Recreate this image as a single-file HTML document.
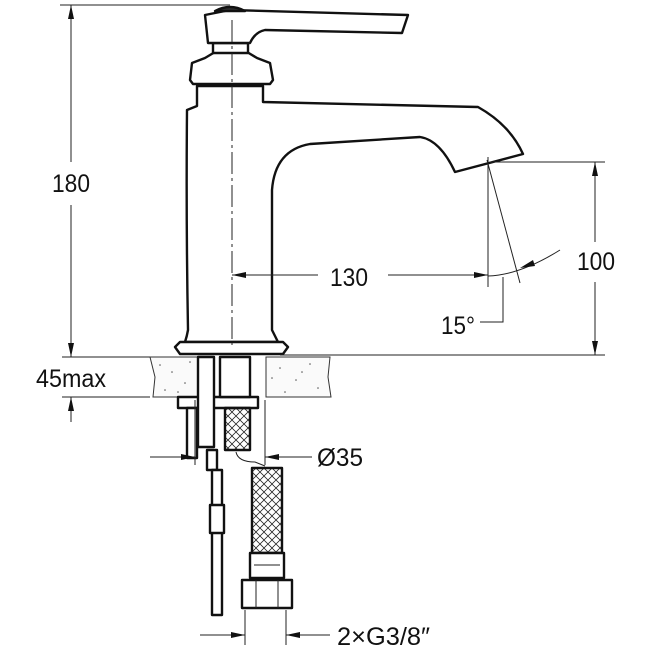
<!DOCTYPE html>
<html><head><style>html,body{margin:0;padding:0;background:#fff}svg{display:block}text{font-family:"Liberation Sans",sans-serif;font-size:25px;fill:#111}</style></head><body>
<svg width="650" height="650" viewBox="0 0 650 650" xmlns="http://www.w3.org/2000/svg">
<defs>
<pattern id="br" width="8" height="8" patternUnits="userSpaceOnUse"><path d="M0,4L4,0M4,8L8,4M0,4L4,8M4,0L8,4" stroke="#222" stroke-width="0.8" fill="none"/></pattern>
</defs>
<!-- counter slab -->
<g stroke="#333" stroke-width="1" fill="#fafafa">
<path d="M150,357 L198,357 L198,397 L153,397 L155,377 Z"/>
<path d="M266,357 L330,357 L328,377 L331,397 L266,397 Z"/>
</g>
<g fill="#555">
<circle cx="160" cy="365" r="0.8"/><circle cx="172" cy="372" r="0.8"/><circle cx="185" cy="383" r="0.8"/><circle cx="165" cy="390" r="0.8"/><circle cx="190" cy="362" r="0.8"/><circle cx="178" cy="392" r="0.8"/><circle cx="280" cy="368" r="0.8"/><circle cx="296" cy="380" r="0.8"/><circle cx="310" cy="364" r="0.8"/><circle cx="318" cy="388" r="0.8"/><circle cx="285" cy="392" r="0.8"/><circle cx="302" cy="372" r="0.8"/><circle cx="272" cy="378" r="0.8"/>
</g>
<!-- faucet -->
<g stroke="#111" stroke-width="2.4" fill="#fff" stroke-linejoin="round">
<path d="M187,110 L197,106 L197,86 L263,86 L263,102 L478,107 Q510,125 523,154 L455,172 Q440,140 420,137 L310,144 Q275,150 272,190 L272,330 Q276,338 278,342 L185,342 Q187,336 188,330 Q186,220 187,110 Z"/>
<path d="M175,347 L180,342 L283,342 L288,347 L283,354 L180,354 Z"/>
<path d="M190,80 L192,63 L205,58 L215,52 L247,52 L257,58 L270,63 L273,80 L270,84 L193,84 Z"/>
<rect x="213" y="43" width="35" height="10"/>
<path d="M205,15 L230,10 L408,15 L402,33 L265,30 Q255,32 250,43 L208,43 Z"/>
<path d="M215,11 Q230,3 245,11 Z" fill="#333"/>
<rect x="178" y="397" width="80" height="11"/>
<rect x="187" y="408" width="10" height="50"/>
<rect x="198" y="357" width="16" height="90"/>
<rect x="220" y="357" width="30" height="40"/>
<rect x="225" y="408" width="25" height="42" fill="url(#br)"/>
<rect x="207" y="450" width="10" height="20"/>
<rect x="212" y="470" width="10" height="145"/>
<rect x="210" y="505" width="14" height="28"/>
<rect x="252" y="468" width="30" height="85" fill="url(#br)"/>
<rect x="250" y="553" width="34" height="25"/>
<rect x="242" y="580" width="50" height="28"/>
</g>
<g stroke="#222" stroke-width="1" fill="none">
<line x1="256" y1="580" x2="256" y2="608"/><line x1="278" y1="580" x2="278" y2="608"/><line x1="254" y1="565" x2="280" y2="565"/>
<line x1="60" y1="5" x2="230" y2="5"/>
<line x1="71" y1="5" x2="71" y2="162"/>
<line x1="71" y1="205" x2="71" y2="357"/>
<line x1="62" y1="357" x2="150" y2="357"/>
<line x1="62" y1="397" x2="150" y2="397"/>
<line x1="71" y1="397" x2="71" y2="422"/>
<line x1="280" y1="355" x2="605" y2="355"/>
<line x1="490" y1="162" x2="605" y2="162"/>
<line x1="595" y1="162" x2="595" y2="242"/>
<line x1="595" y1="282" x2="595" y2="355"/>
<line x1="232" y1="275" x2="318" y2="275"/>
<line x1="388" y1="275" x2="488" y2="275"/>
<line x1="488" y1="157" x2="488" y2="287"/>
<line x1="487" y1="160" x2="520" y2="283"/>
<path d="M488,276 Q520,275 560,250"/>
<polyline points="503,277 503,322 480,322"/>
<line x1="232" y1="20" x2="232" y2="345" stroke-dasharray="22,4,3,4"/>
<line x1="150" y1="457" x2="195" y2="457"/>
<line x1="195" y1="400" x2="195" y2="465"/>
<line x1="265" y1="400" x2="265" y2="465"/>
<line x1="265" y1="457" x2="312" y2="457"/>
<path d="M236,452 Q238,462 255,462 L265,466"/>
<line x1="245" y1="610" x2="245" y2="645"/>
<line x1="286" y1="610" x2="286" y2="645"/>
<line x1="200" y1="635" x2="245" y2="635"/>
<line x1="286" y1="635" x2="330" y2="635"/>
</g>
<!-- arrowheads -->
<g fill="#111">
<polygon points="71,5 68,19 74,19"/>
<polygon points="71,357 68,343 74,343"/>
<polygon points="71,397 68,411 74,411"/>
<polygon points="595,162 592,176 598,176"/>
<polygon points="595,355 592,341 598,341"/>
<polygon points="232,275 246,272 246,278"/>
<polygon points="488,275 474,272 474,278"/>
<polygon points="520,268 533,260 535,266"/>
<polygon points="195,457 181,454 181,460"/>
<polygon points="265,457 279,454 279,460"/>
<polygon points="245,635 231,632 231,638"/>
<polygon points="286,635 300,632 300,638"/>
</g>
<!-- labels -->
<text x="52" y="192" textLength="38" lengthAdjust="spacingAndGlyphs">180</text>
<text x="36" y="387" textLength="70" lengthAdjust="spacingAndGlyphs">45max</text>
<text x="330" y="286" textLength="38" lengthAdjust="spacingAndGlyphs">130</text>
<text x="577" y="270" textLength="38" lengthAdjust="spacingAndGlyphs">100</text>
<text x="441" y="334" textLength="34" lengthAdjust="spacingAndGlyphs">15°</text>
<text x="317" y="466" textLength="46" lengthAdjust="spacingAndGlyphs">Ø35</text>
<text x="337" y="645" textLength="93" lengthAdjust="spacingAndGlyphs">2×G3/8″</text>
</svg>
</body></html>
